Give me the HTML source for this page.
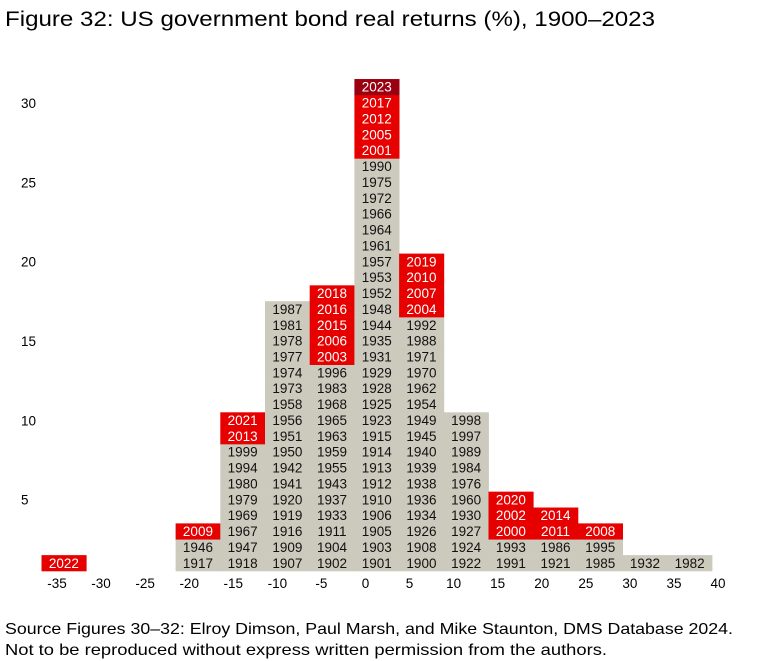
<!DOCTYPE html>
<html><head><meta charset="utf-8"><style>
html,body{margin:0;padding:0;background:#fff;}
svg{display:block;font-family:"Liberation Sans",Arial,sans-serif;}
</style></head><body>
<svg id="chart" width="758" height="661" viewBox="0 0 758 661">
<text x="5" y="26" font-size="21" fill="#000" textLength="650" lengthAdjust="spacingAndGlyphs">Figure 32: US government bond real returns (%), 1900–2023</text>
<g id="yaxis"></g>
<g id="bars"></g>
<g id="xaxis"></g>
<text x="5" y="634" font-size="16" fill="#000" textLength="728" lengthAdjust="spacingAndGlyphs">Source Figures 30–32: Elroy Dimson, Paul Marsh, and Mike Staunton, DMS Database 2024.</text>
<text x="5" y="655" font-size="16" fill="#000" textLength="602" lengthAdjust="spacingAndGlyphs">Not to be reproduced without express written permission from the authors.</text>
</svg>
<script>
const bins = [-35,-30,-25,-20,-15,-10,-5,0,5,10,15,20,25,30,35];
const xTicks = ["-35","-30","-25","-20","-15","-10","-5","0","5","10","15","20","25","30","35","40"];
const yTicks = [5,10,15,20,25,30];
const grayYears = [
 [],[],[],
 [1917,1946],
 [1918,1947,1967,1969,1979,1980,1994,1999],
 [1907,1909,1916,1919,1920,1941,1942,1950,1951,1956,1958,1973,1974,1977,1978,1981,1987],
 [1902,1904,1911,1933,1937,1943,1955,1959,1963,1965,1968,1983,1996],
 [1901,1903,1905,1906,1910,1912,1913,1914,1915,1923,1925,1928,1929,1931,1935,1944,1948,1952,1953,1957,1961,1964,1966,1972,1975,1990],
 [1900,1908,1926,1934,1936,1938,1939,1940,1945,1949,1954,1962,1970,1971,1988,1992],
 [1922,1924,1927,1930,1960,1976,1984,1989,1997,1998],
 [1991,1993],
 [1921,1986],
 [1985,1995],
 [1932],
 [1982]
];
const redYears = [
 [2022],[],[],[2009],[2013,2021],[],[2003,2006,2015,2016,2018],[2001,2005,2012,2017,2023],
 [2004,2007,2010,2019],[],[2000,2002,2020],[2011,2014],[2008],[],[]
];
const latestYear = [2023];

const NS="http://www.w3.org/2000/svg";
const colLeft=41.5, colW=44.7, base=571, rowH=15.87;
const xCol = i => colLeft + i*colW;
const yRow = n => base - n*rowH;
function mk(tag, attrs, parent){const e=document.createElementNS(NS,tag);for(const k in attrs)e.setAttribute(k,attrs[k]);parent.appendChild(e);return e;}
const bars=document.getElementById('bars');
bins.forEach((b,i)=>{
  const years=[...grayYears[i].map(y=>[y,'g']),...redYears[i].map(y=>[y,latestYear.includes(y)?'d':'r'])];
  years.forEach(([yr,t],n)=>{
    const g=mk('g',{},bars);
    
    
    const fill=t==='g'?'#ccc9bd':(t==='d'?'#9b0010':'#e60000');
    mk('rect',{x:xCol(i),y:yRow(n+1),width:colW+0.4,height:rowH+0.3,fill:fill},g);
    const tx=mk('text',{x:xCol(i)+colW/2,y:yRow(n)-3.2,'font-size':'13.5','text-anchor':'middle',fill:t==='g'?'#111':'#fff'},g);
    tx.textContent=yr;
  });
});
const xa=document.getElementById('xaxis');
xTicks.forEach((l,i)=>{
  const t=mk('text',{x:57+i*44.07,y:588,'font-size':'13.5','text-anchor':'middle',fill:'#000'},xa);
  
  
  t.textContent=l;
});
const ya=document.getElementById('yaxis');
yTicks.forEach(v=>{
  const t=mk('text',{x:21,y:579-v*rowH+5,'font-size':'13.5',fill:'#000'},ya);
  
  
  t.textContent=v;
});
</script>
</body></html>
